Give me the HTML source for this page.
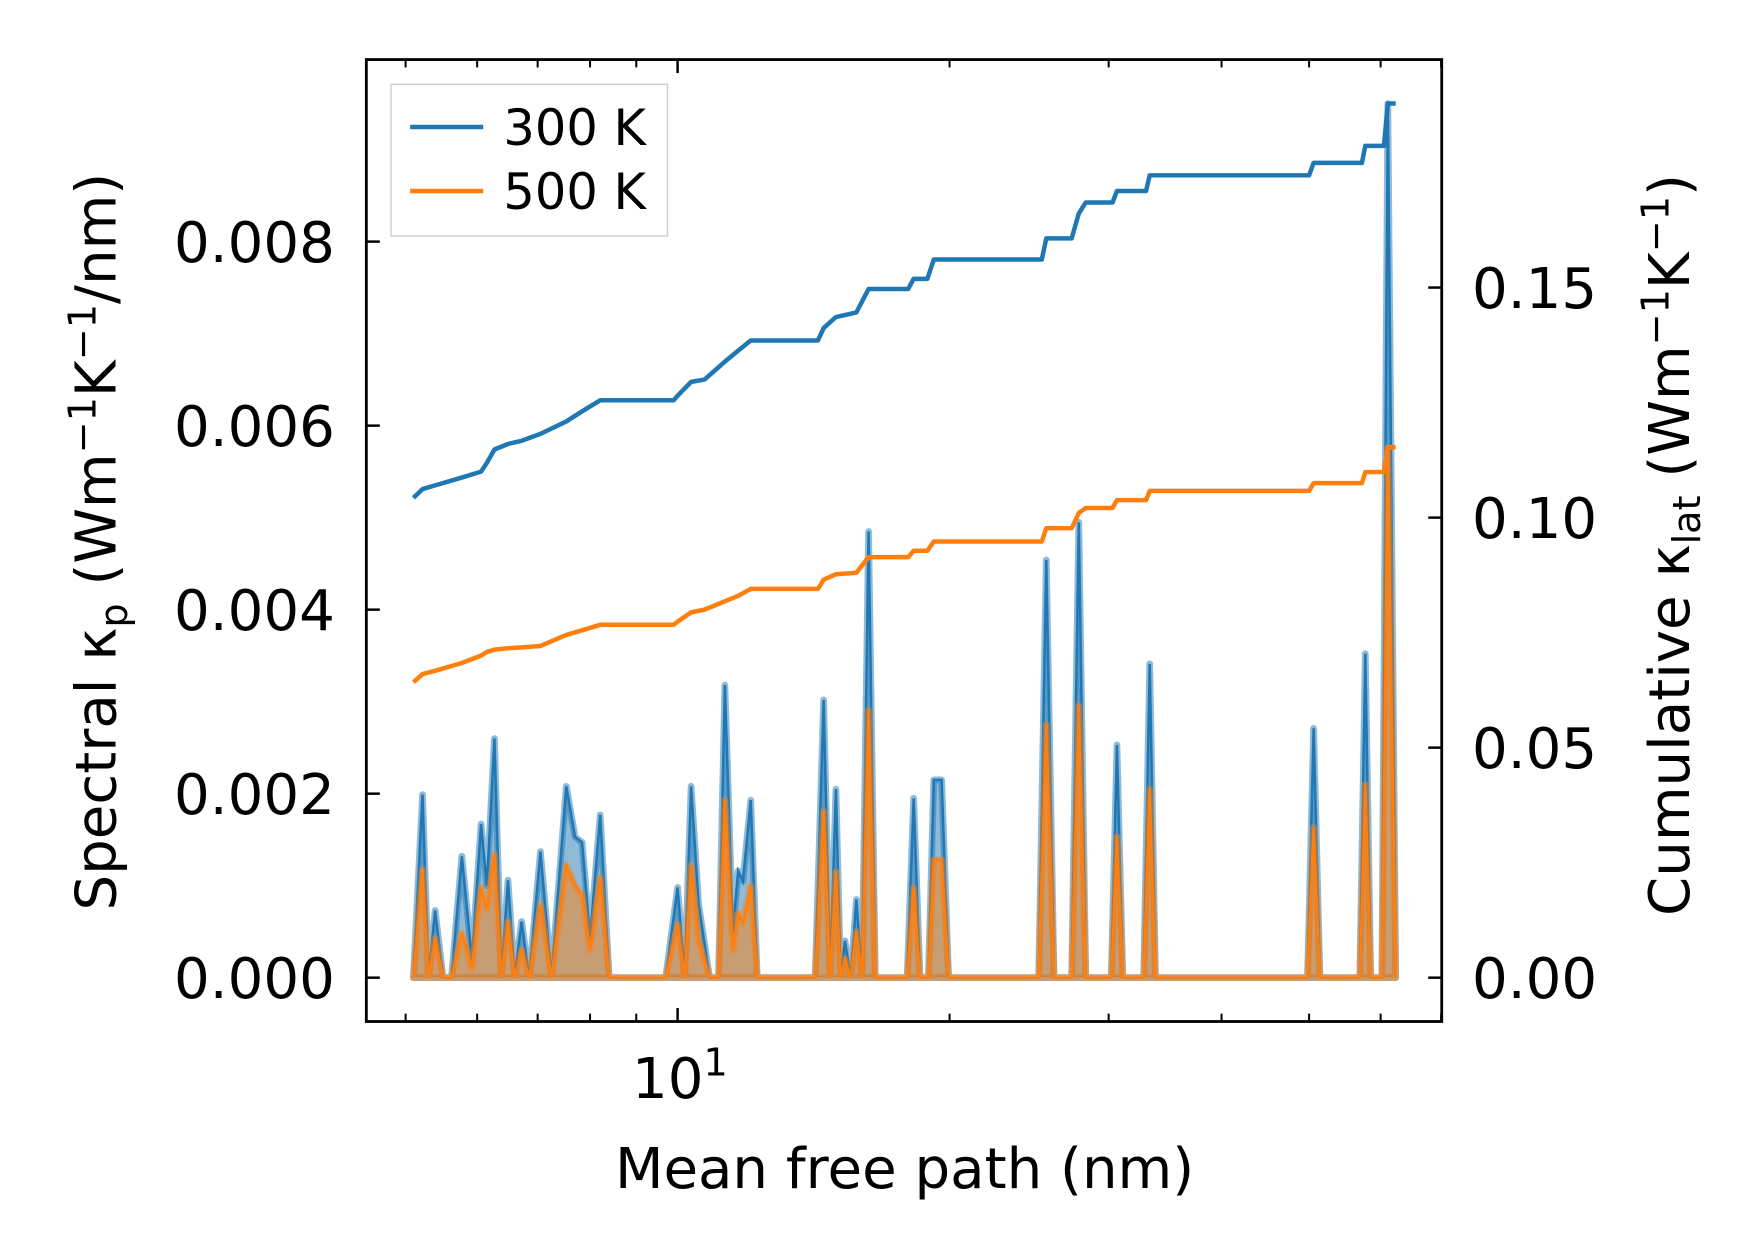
<!DOCTYPE html>
<html><head><meta charset="utf-8"><style>
html,body{margin:0;padding:0;background:#fff;}
svg{display:block;}
text{font-family:"DejaVu Sans","Liberation Sans",sans-serif;fill:#000;}
</style></head><body>
<svg id="chart" width="1753" height="1253" viewBox="0 0 1560 1115" preserveAspectRatio="none" xmlns="http://www.w3.org/2000/svg">
<rect width="1560" height="1115" fill="#fff"/>
<g id="spec"></g>
<g id="cum"></g>
<g id="axes"></g>
<g>
<rect x="348" y="75" width="246" height="135" fill="#fff" fill-opacity="0.8" stroke="#ccc" stroke-width="1.2"/>
<line x1="365" y1="113" x2="430" y2="113" stroke="#1f77b4" stroke-width="4"/>
<text x="448" y="129" font-size="44">300 K</text>
<line x1="365" y1="170" x2="430" y2="170" stroke="#ff7f0e" stroke-width="4"/>
<text x="448" y="186" font-size="44">500 K</text>
</g>
<text x="805" y="1057" font-size="50" text-anchor="middle">Mean free path (nm)</text>
<text transform="translate(103,482) rotate(-90)" font-size="50" text-anchor="middle">Spectral κ<tspan font-size="34" dy="10">p</tspan><tspan dy="-10"> (Wm</tspan><tspan font-size="34" dy="-18">−1</tspan><tspan dy="18">K</tspan><tspan font-size="34" dy="-18">−1</tspan><tspan dy="18">/nm)</tspan></text>
<text transform="translate(1503,485) rotate(-90)" font-size="50" text-anchor="middle">Cumulative κ<tspan font-size="34" dy="10">lat</tspan><tspan dy="-10"> (Wm</tspan><tspan font-size="34" dy="-18">−1</tspan><tspan dy="18">K</tspan><tspan font-size="34" dy="-18">−1</tspan><tspan dy="18">)</tspan></text>
</svg>
<script>
const mfp = [5.10,5.22,5.30,5.39,5.50,5.62,5.77,5.92,6.06,6.15,6.27,6.38,6.49,6.60,6.72,6.85,7.05,7.25,7.53,7.70,7.84,8.00,8.21,8.40,9.70,10.0,10.18,10.35,10.55,10.85,11.10,11.28,11.51,11.67,11.81,12.05,12.25,14.2,14.51,14.75,14.97,15.15,15.32,15.55,15.77,16.0,16.27,16.55,17.95,18.25,18.55,18.95,19.21,19.60,19.95,25.1,25.59,26.1,27.3,27.80,28.3,30.2,30.64,31.1,32.8,33.31,33.8,49.8,50.58,51.4,56.9,57.70,58.5,60.2,61.11,62.35];
const spec300 = [0,0.00199,0,0.00073,0,0,0.00132,0.0002,0.00167,0.00100,0.0026,0,0.00106,0,0.00061,0,0.00137,0,0.00208,0.00153,0.00147,0.00043,0.00177,0,0,0.00098,0,0.00208,0.0008,0,0,0.00318,0.0005,0.00116,0.00105,0.00193,0,0,0.00302,0,0.00205,0,0.0004,0,0.00085,0,0.00485,0,0,0.00195,0,0,0.00215,0.00215,0,0,0.00454,0,0,0.00495,0,0,0.00253,0,0,0.00341,0,0,0.00271,0,0,0.00352,0,0,0.0095,0];
const spec500 = [0,0.00118,0,0.00043,0,0,0.00049,0.0001,0.00098,0.00075,0.00134,0,0.00061,0,0.0003,0,0.00079,0,0.00122,0.0010,0.0009,0.0003,0.00109,0,0,0.00058,0,0.00122,0.0004,0,0,0.00193,0.0003,0.0007,0.0006,0.00100,0,0,0.00181,0,0.00115,0,0.0002,0,0.0005,0,0.00291,0,0,0.00098,0,0,0.00128,0.00128,0,0,0.00275,0,0,0.00296,0,0,0.00153,0,0,0.00205,0,0,0.00163,0,0,0.00210,0,0,0.00576,0];
const cumMfp = [5.10,5.22,5.39,5.77,6.06,6.15,6.27,6.49,6.72,7.05,7.53,7.84,8.21,9.90,10.0,10.35,10.71,11.28,11.67,12.05,14.3,14.51,14.97,15.77,16.27,18.0,18.25,18.9,19.21,25.3,25.59,27.3,27.80,28.3,30.3,30.64,33.0,33.31,50.0,50.58,57.2,57.70,60.5,61.11,62.35];
const cum300 = [.1043,.1062,.1070,.1087,.1100,.1119,.1148,.1160,.1167,.1182,.1209,.1231,.1255,.1255,.1265,.1295,.1300,.1339,.1363,.1385,.1385,.1412,.1436,.1446,.1497,.1497,.1519,.1519,.1561,.1561,.1607,.1607,.1661,.1685,.1685,.1710,.1710,.1744,.1744,.1771,.1771,.1808,.1808,.1900,.1900];
const cum500 = [.0642,.0660,.0667,.0684,.0700,.0708,.0713,.0716,.0718,.0721,.0745,.0755,.0767,.0767,.0774,.0794,.0800,.0818,.0830,.0845,.0845,.0865,.0877,.0880,.0914,.0914,.0928,.0928,.0948,.0948,.0977,.0977,.1010,.1021,.1021,.1038,.1038,.1058,.1058,.1075,.1075,.1099,.1099,.1153,.1153];
const leftTicks = [0,0.002,0.004,0.006,0.008];
const leftTickLabels = ["0.000","0.002","0.004","0.006","0.008"];
const rightTicks = [0,0.05,0.10,0.15];
const rightTickLabels = ["0.00","0.05","0.10","0.15"];
const xMinorTicks = [5,6,7,8,9,20,30,40,50,60,70];

const NS="http://www.w3.org/2000/svg";
const L=326,R=1283,T=53,B=909;
const xs = v => 603 + 804*(Math.log10(v)-1);
const yl = v => 870 - v*81875;
const yr = v => 870 - v*4094;
function mk(tag, attrs, parent){const e=document.createElementNS(NS,tag);for(const k in attrs)e.setAttribute(k,attrs[k]);parent.appendChild(e);return e;}
const spec=document.getElementById('spec'), cum=document.getElementById('cum'), axes=document.getElementById('axes');

function area(vals, color, name){
  let d='M'+xs(mfp[0])+','+yl(0);
  mfp.forEach((m,i)=>{d+=' L'+xs(m)+','+yl(vals[i]);});
  d+=' L'+xs(mfp[mfp.length-1])+','+yl(0)+' Z';
  const a=mk('path',{d:d,fill:color,'fill-opacity':0.5,stroke:color,'stroke-opacity':0.5,'stroke-width':6,'stroke-linejoin':'round'},spec);
  
  
  const p=mfp.map((m,i)=>xs(m)+','+yl(vals[i])).join(' ');
  const l=mk('polyline',{points:p,fill:'none',stroke:color,'stroke-width':2.2},spec);
  
  
}
area(spec300,'#1f77b4','spectral-300k');
area(spec500,'#ff7f0e','spectral-500k');

function cline(vals,color,name){
  const p=cumMfp.map((m,i)=>xs(m)+','+yr(vals[i])).join(' ');
  const l=mk('polyline',{points:p,fill:'none',stroke:color,'stroke-width':4,'stroke-linejoin':'round'},cum);
  
  
}
cline(cum300,'#1f77b4','cumulative-300k');
cline(cum500,'#ff7f0e','cumulative-500k');

const frame=mk('rect',{x:L,y:T,width:R-L,height:B-T,fill:'none',stroke:'#000','stroke-width':2.5},axes);



leftTicks.forEach((v,i)=>{
  const y=yl(v);
  const t=mk('line',{x1:L,x2:L+12,y1:y,y2:y,stroke:'#000','stroke-width':2.2},axes);
  
  
  const tx=mk('text',{x:298,y:y+18,'font-size':50,'text-anchor':'end'},axes);
  tx.textContent=leftTickLabels[i];
  
  
});
rightTicks.forEach((v,i)=>{
  const y=yr(v);
  const t=mk('line',{x1:R-12,x2:R,y1:y,y2:y,stroke:'#000','stroke-width':2.2},axes);
  
  
  const tx=mk('text',{x:1310,y:y+18,'font-size':50},axes);
  tx.textContent=rightTickLabels[i];
  
  
});
[10].forEach(v=>{
  const x=xs(v);
  [[B,B-12],[T,T+12]].forEach(p=>{
    const t=mk('line',{x1:x,x2:x,y1:p[0],y2:p[1],stroke:'#000','stroke-width':2.2},axes);
    
    
  });
  const tx=mk('text',{x:x+2,y:977,'font-size':50,'text-anchor':'middle'},axes);
  tx.innerHTML='10<tspan font-size="34" dy="-20">1</tspan>';
  
  
});
xMinorTicks.forEach(v=>{
  const x=xs(v);
  if(x<L||x>R)return;
  [[B,B-7],[T,T+7]].forEach(p=>{
    const t=mk('line',{x1:x,x2:x,y1:p[0],y2:p[1],stroke:'#000','stroke-width':1.8},axes);
    
    
  });
});
</script>
</body></html>
